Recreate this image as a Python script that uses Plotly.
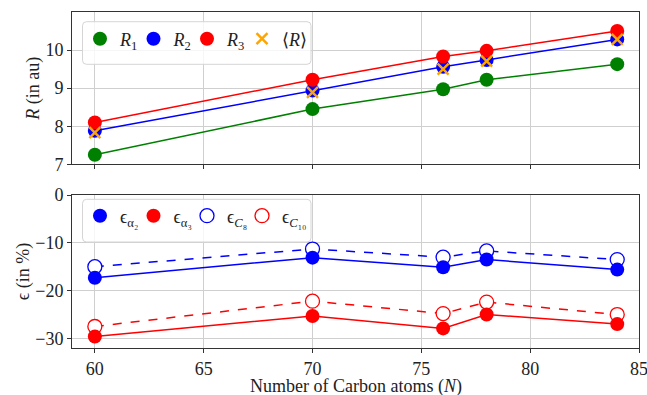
import plotly.graph_objects as go
from plotly.subplots import make_subplots

N = [60, 70, 76, 78, 84]
R1 = [7.25, 8.45, 8.97, 9.22, 9.63]
R2 = [7.88, 8.94, 9.56, 9.74, 10.28]
R3 = [8.10, 9.22, 9.83, 9.98, 10.50]
R_avg = [7.83, 8.89, 9.50, 9.71, 10.28]

eps_a2 = [-17.3, -13.1, -15.1, -13.5, -15.6]
eps_a3 = [-29.6, -25.3, -27.9, -25.0, -27.0]
eps_C8 = [-15.0, -11.3, -13.0, -11.7, -13.5]
eps_C10 = [-27.5, -22.2, -24.8, -22.4, -25.0]

FONT = "Liberation Serif"
GREEN, BLUE, RED, ORANGE = "#008000", "#0000ff", "#ff0000", "#ffa500"
MS = 14
TXT = "#222"

# plot-area geometry (pixels) used to place the legend boxes
W, H = 647, 395
ML, MR, MT, MB = 72, 8, 12, 47
PW, PH = W - ML - MR, H - MT - MB

fig = make_subplots(rows=2, cols=1, shared_xaxes=False, vertical_spacing=0.09)

def line_trace(x, y, color, row, dash="solid", filled=True):
    marker = dict(size=MS, symbol="circle", color=color if filled else "white",
                  line=dict(color=color, width=0 if filled else 1.3))
    fig.add_trace(go.Scatter(x=x, y=y, mode="lines+markers", showlegend=False,
                             line=dict(color=color, width=1.5, dash=dash),
                             marker=marker), row=row, col=1)

line_trace(N, R1, GREEN, 1)
line_trace(N, R2, BLUE, 1)
line_trace(N, R3, RED, 1)
fig.add_trace(go.Scatter(x=N, y=R_avg, mode="markers", showlegend=False,
                         marker=dict(symbol="x-thin", size=11, color=ORANGE,
                                     line=dict(color=ORANGE, width=2.5))), row=1, col=1)

line_trace(N, eps_C8, BLUE, 2, dash="dash", filled=False)
line_trace(N, eps_C10, RED, 2, dash="dash", filled=False)
line_trace(N, eps_a2, BLUE, 2)
line_trace(N, eps_a3, RED, 2)

# legend entries: one single-item legend each, placed to mimic the reference layout
entries_top = [("<i>R</i><sub>1</sub>", GREEN, True, "circle"),
               ("<i>R</i><sub>2</sub>", BLUE, True, "circle"),
               ("<i>R</i><sub>3</sub>", RED, True, "circle"),
               ("⟨<i>R</i>⟩", ORANGE, True, "x-thin")]
entries_bot = [("ϵ<sub>α₂</sub>", BLUE, True, "circle"),
               ("ϵ<sub>α₃</sub>", RED, True, "circle"),
               ("ϵ<sub><i>C</i>₈</sub>", BLUE, False, "circle"),
               ("ϵ<sub><i>C</i>₁₀</sub>", RED, False, "circle")]
marker_px = [100, 153.5, 207, 262]
row_y_px = [39, 216]

legend_layouts = {}
k = 0
for entries, ypx in ((entries_top, row_y_px[0]), (entries_bot, row_y_px[1])):
    for (name, color, filled, symbol), mx in zip(entries, marker_px):
        k += 1
        lname = "legend" if k == 1 else f"legend{k}"
        if symbol == "x-thin":
            m = dict(symbol=symbol, size=11, color=color, line=dict(color=color, width=2.5))
        else:
            m = dict(symbol=symbol, size=MS, color=color if filled else "white",
                     line=dict(color=color, width=0 if filled else 1.3))
        fig.add_trace(go.Scatter(x=[None], y=[None], mode="markers", name=name,
                                 marker=m, legend=lname))
        legend_layouts[lname] = dict(
            x=(mx - 20 - ML) / PW, y=(MT + PH - ypx) / PH,
            xanchor="left", yanchor="middle", orientation="h",
            bgcolor="rgba(0,0,0,0)", borderwidth=0,
            font=dict(family=FONT, size=18, color=TXT))

# legend frames (rounded rectangles)
def rounded_box(x0p, x1p, y0p, y1p, r=4):
    x0, x1 = (x0p - ML) / PW, (x1p - ML) / PW
    y0, y1 = (MT + PH - y1p) / PH, (MT + PH - y0p) / PH
    rx, ry = r / PW, r / PH
    path = (f"M {x0+rx},{y0} L {x1-rx},{y0} Q {x1},{y0} {x1},{y0+ry} "
            f"L {x1},{y1-ry} Q {x1},{y1} {x1-rx},{y1} L {x0+rx},{y1} "
            f"Q {x0},{y1} {x0},{y1-ry} L {x0},{y0+ry} Q {x0},{y0} {x0+rx},{y0} Z")
    fig.add_shape(type="path", path=path, xref="paper", yref="paper", layer="above",
                  fillcolor="rgba(255,255,255,0.8)", line=dict(color="#d5d5d5", width=1))

rounded_box(82.5, 311, 21.7, 64.3)
rounded_box(82.5, 311, 199.3, 242)

axis_common = dict(showline=True, linecolor="#333", linewidth=1, mirror=True,
                   showgrid=True, gridcolor="#cfcfcf", gridwidth=1,
                   ticks="outside", ticklen=4, tickcolor="#333", zeroline=False,
                   automargin=False, ticklabeloverflow="allow",
                   tickfont=dict(family=FONT, size=18, color=TXT))

fig.update_xaxes(range=[58.95, 85], dtick=5, tick0=60, **axis_common)
fig.update_xaxes(showticklabels=False, row=1, col=1)
fig.update_xaxes(ticklabelstandoff=0, row=2, col=1)
fig.update_yaxes(**axis_common)
fig.update_yaxes(range=[7, 11], tickvals=[7, 8, 9, 10], domain=[(MT + PH - 164.3) / PH, 1],
                 title=dict(text="<i>R</i> (in au)", font=dict(family=FONT, size=18, color=TXT),
                            standoff=1), row=1, col=1)
fig.update_yaxes(range=[-32, 0], tickvals=[-30, -20, -10, 0],
                 domain=[0, (MT + PH - 195) / PH],
                 title=dict(text="ϵ (in %)", font=dict(family=FONT, size=18, color=TXT),
                            standoff=0), row=2, col=1)

# x-axis title
fig.add_annotation(text="Number of Carbon atoms (<i>N</i>)", xref="paper", yref="paper",
                   x=0.5, y=(MT + PH - 386) / PH, xanchor="center", yanchor="middle",
                   showarrow=False, font=dict(family=FONT, size=18, color=TXT))

fig.update_layout(
    **legend_layouts,
    width=W, height=H,
    margin=dict(l=ML, r=MR, t=MT, b=MB),
    plot_bgcolor="white", paper_bgcolor="white",
    font=dict(family=FONT, size=18, color=TXT),
)

fig.write_html("out.html", config={"displayModeBar": False},
               post_script="document.body.style.margin='0';document.body.style.overflow='hidden';")
